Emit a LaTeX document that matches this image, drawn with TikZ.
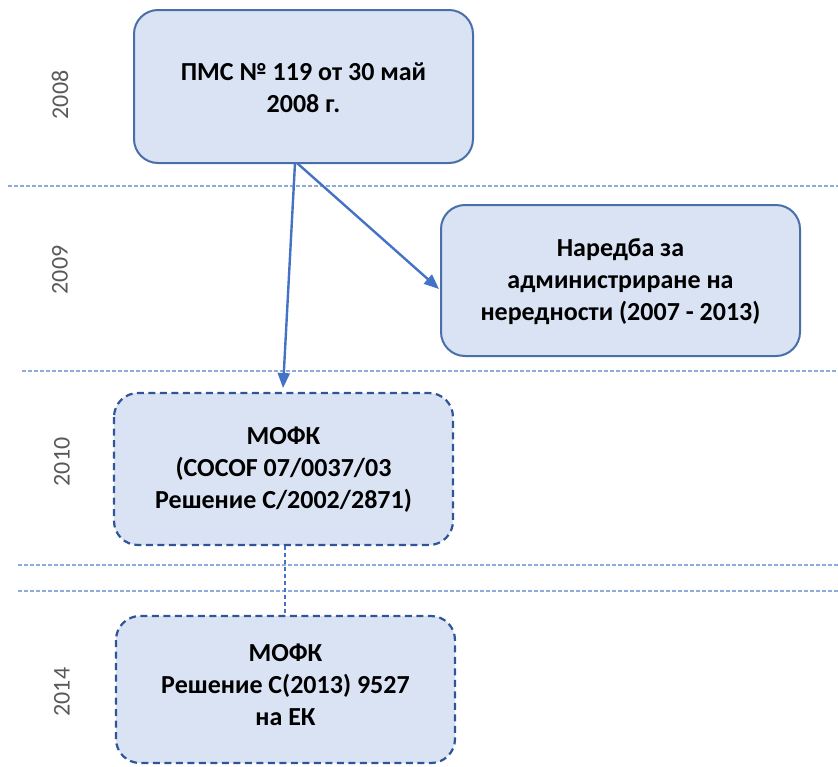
\documentclass[tikz,border=0pt]{standalone}
\usepackage{fontspec}
\setmainfont{Carlito}
\usetikzlibrary{arrows.meta}
\definecolor{boxfill}{HTML}{DAE3F3}
\definecolor{boxline}{HTML}{4A6EA8}
\definecolor{dashline}{HTML}{2F5597}
\definecolor{arrowc}{HTML}{4472C4}
\definecolor{gridc}{HTML}{8FAADC}
\definecolor{yearc}{HTML}{595959}
\tikzset{
  box/.style={draw=boxline, line width=2pt, fill=boxfill, rounded corners=24pt},
  dbox/.style={draw=dashline, line width=2.2pt, fill=boxfill, rounded corners=24pt, dash pattern=on 7pt off 4.5pt},
  btext/.style={align=center, font=\fontsize{26}{32}\selectfont\bfseries, text=black},
  year/.style={rotate=90, font=\fontsize{24}{28}\selectfont, text=yearc},
  grid/.style={draw=gridc, line width=1.4pt, dash pattern=on 3.5pt off 2.5pt},
  arr/.style={draw=arrowc, line width=2.4pt, -{Triangle[length=15pt,width=12pt]}},
}
\begin{document}
\begin{tikzpicture}[x=1pt,y=-1pt]
\useasboundingbox (0,0) rectangle (838,766);
% grid lines
\coordinate (g1a) at (8,186);   \coordinate (g1b) at (838,186);
\coordinate (g2a) at (22,371);  \coordinate (g2b) at (838,371);
\coordinate (g3a) at (18,565);  \coordinate (g3b) at (838,565);
\coordinate (g4a) at (18,591);  \coordinate (g4b) at (838,591);
\draw[grid] (g1a) -- (g1b);
\draw[grid] (g2a) -- (g2b);
\draw[grid] (g3a) -- (g3b);
\draw[grid] (g4a) -- (g4b);
% years
\node[year] (y1) at (60,95) {2008};
\node[year] (y2) at (60,270) {2009};
\node[year] (y3) at (62,462) {2010};
\node[year] (y4) at (62,692) {2014};
% boxes
\path[box] (134,10) rectangle (473,163);
\node[btext] (b1) at (303.5,88) {ПМС № 119 от 30 май\\2008 г.};
\path[box] (441,205) rectangle (800,356);
\node[btext] (b2) at (620.5,282) {Наредба за\\администриране на\\нередности (2007 - 2013)};
\path[dbox] (114,393) rectangle (453,545);
\node[btext] (b3) at (283.5,470) {МОФК\\(COCOF 07/0037/03\\Решение C/2002/2871)};
\path[dbox] (116,616) rectangle (455,763);
\node[btext] (b4) at (285.5,685) {МОФК\\Решение C(2013) 9527\\на ЕК};
% anchor points
\coordinate (s1) at (295,163);
\coordinate (s2) at (297,163);
\coordinate (t1) at (283,388);
\coordinate (t2) at (439,289);
\coordinate (c1) at (285,546);
\coordinate (c2) at (285,615);
\draw[arr] (s1) -- (t1);
\draw[arr] (s2) -- (t2);
\draw[draw=arrowc, line width=1.2pt, dash pattern=on 4pt off 3pt] (c1) -- (c2);
\end{tikzpicture}
\end{document}
